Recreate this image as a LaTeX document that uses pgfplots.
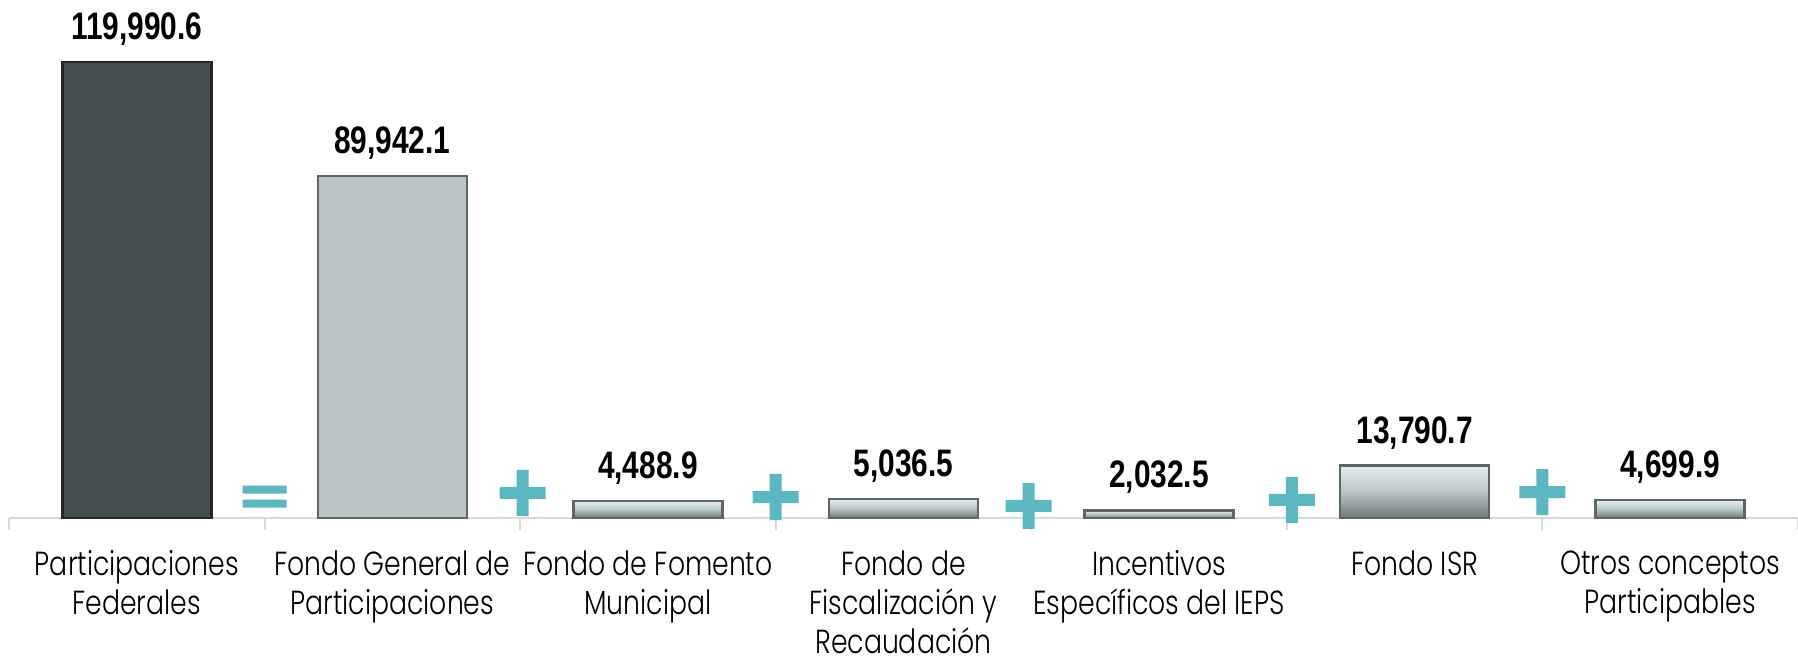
\documentclass[border=0pt]{standalone}
\usepackage{fontspec}
\setmainfont{Poppins Light}[FakeStretch=0.8]
\newfontfamily\valfont[FakeStretch=0.78]{Liberation Sans}
\usepackage{pgfplots}
\pgfplotsset{compat=1.18}
\definecolor{darkbar}{HTML}{454D50}
\definecolor{darkedge}{HTML}{23282A}
\definecolor{lightbar}{HTML}{BAC5C5}
\definecolor{lightedge}{HTML}{5E6668}
\definecolor{lighttop}{HTML}{E4EEEE}
\definecolor{lightbottom}{HTML}{6E7779}
\definecolor{opteal}{HTML}{5BB7C1}
\definecolor{axisgray}{HTML}{D9D9D9}
\pgfdeclareplotmark{bigplus}{%
  \pgfpathrectangle{\pgfpoint{-2.3mm}{-0.6mm}}{\pgfpoint{4.6mm}{1.2mm}}%
  \pgfpathrectangle{\pgfpoint{-0.6mm}{-2.3mm}}{\pgfpoint{1.2mm}{4.6mm}}%
  \pgfusepathqfill}
\pgfdeclareplotmark{bigeq}{%
  \pgfpathrectangle{\pgfpoint{-2.2mm}{0.3mm}}{\pgfpoint{4.4mm}{0.8mm}}%
  \pgfpathrectangle{\pgfpoint{-2.2mm}{-1.1mm}}{\pgfpoint{4.4mm}{0.8mm}}%
  \pgfusepathqfill}
\pgfplotsset{
  mybar/.style={ybar, bar width=14.9mm, bar shift=0pt, line width=0.25mm,
    nodes near coords={\pgfmathprintnumber[assume math mode=true, fixed, fixed zerofill, precision=1, 1000 sep={,}]{\pgfplotspointmeta}},
    every node near coord/.append style={font=\valfont\bfseries\fontsize{10.9}{13}\selectfont, text=black, anchor=south, yshift=0.35mm}},
  lbar/.style={mybar, fill=lightbar, draw=lightedge},
  sbar/.style={mybar, draw=lightedge, top color=lighttop, bottom color=lightbottom, middle color=lightbar},
}
\begin{document}
\begin{tikzpicture}
\useasboundingbox (0,0) rectangle (179.8mm,66.1mm);
\begin{axis}[
  at={(0.9mm,14.3mm)}, anchor=south west,
  scale only axis, width=178.9mm, height=51.8mm,
  xmin=-0.5, xmax=6.5, ymin=0, ymax=136305,
  axis x line=bottom, axis y line=none,
  x axis line style={-, draw=axisgray, line width=0.2mm},
  xtick={0,...,6},
  xticklabels={Participaciones\\Federales, Fondo General de\\Participaciones, Fondo de Fomento\\Municipal, Fondo de\\Fiscalización y\\Recaudación, Incentivos\\Específicos del IEPS, Fondo ISR, Otros conceptos\\Participables},
  major tick length=0pt,
  minor xtick={-0.5,0.5,...,6.5},
  minor tick length=1.2mm,
  tick align=outside,
  minor x tick style={draw=axisgray, line width=0.2mm},
  xticklabel style={font=\fontsize{9.5}{11.2}\selectfont, align=center, anchor=north, yshift=-2.0mm},
  clip=false,
]
\addplot[mybar, fill=darkbar, draw=darkedge] coordinates {(0,119990.6)};
\addplot[lbar] coordinates {(1,89942.1)};
\addplot[sbar] coordinates {(2,4488.9)};
\addplot[sbar] coordinates {(3,5036.5)};
\addplot[sbar] coordinates {(4,2032.5)};
\addplot[sbar] coordinates {(5,13790.7)};
\addplot[sbar] coordinates {(6,4699.9)};
\addplot[only marks, mark=bigeq, color=opteal] coordinates {(0.5,5650)};
\addplot[only marks, mark=bigplus, color=opteal] coordinates {(1.51,6580) (2.5,5525) (3.49,3160) (4.52,4740) (5.5,6840)};
\end{axis}
\end{tikzpicture}
\end{document}
